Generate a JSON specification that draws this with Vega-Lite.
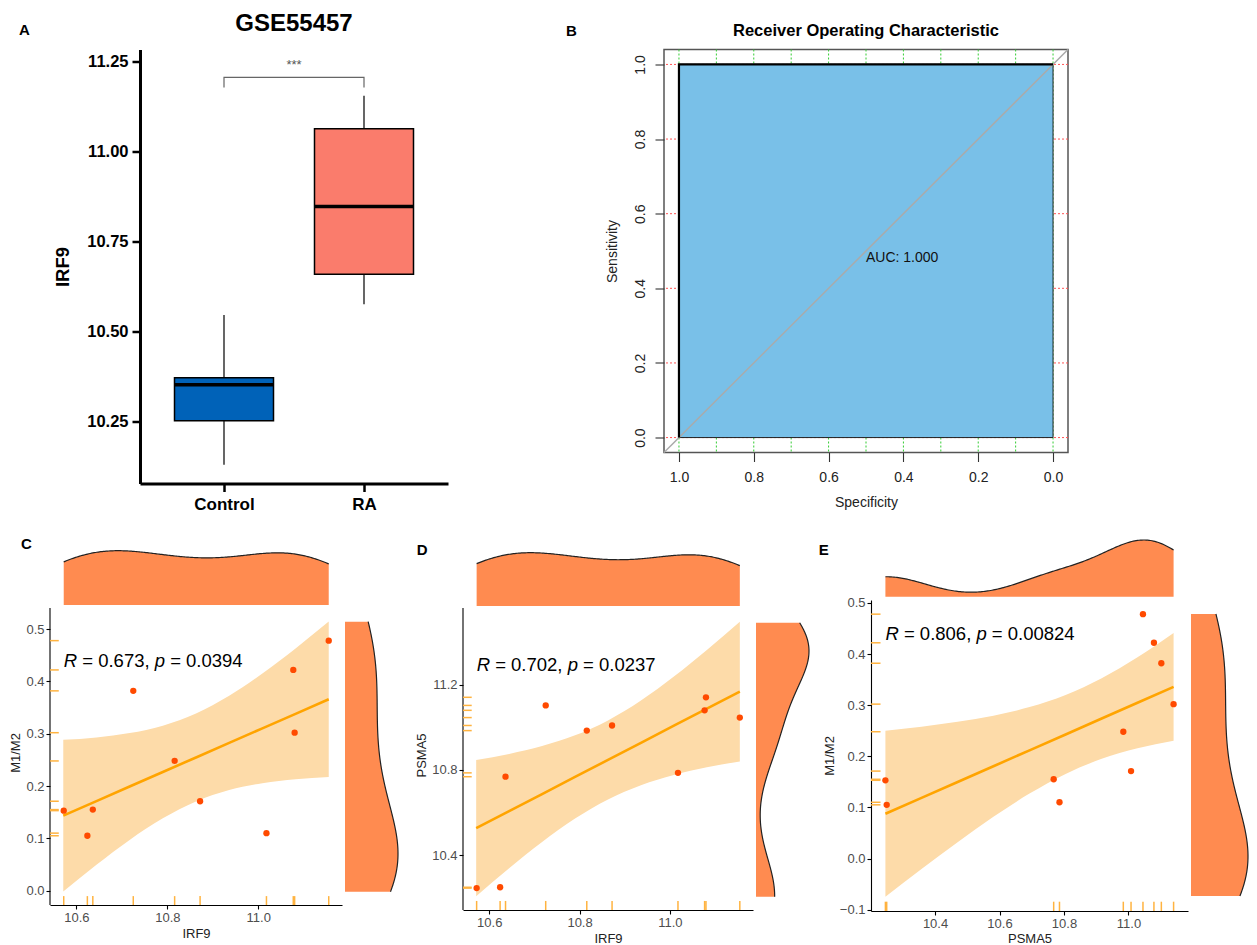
{
  "$schema": "https://vega.github.io/schema/vega-lite/v6.json",
  "padding": {"left": 9, "top": 11.5, "right": 0, "bottom": 0},
  "config": {
    "font": "Liberation Sans",
    "view": {"stroke": null},
    "axis": {"grid": false, "domainColor": "black", "domainWidth": 1.1, "tickColor": "black", "tickWidth": 1.1, "tickSize": 4, "labelFontSize": 13, "labelColor": "#4D4D4D", "labelPadding": 2, "titleFontSize": 13, "titleFontWeight": "normal", "titleColor": "#222222", "titlePadding": 3},
    "title": {"color": "black"}
  },
  "datasets": {
    "samples": [
      {"IRF9": 10.572, "PSMA5": 10.246, "M1M2": 0.153},
      {"IRF9": 10.624, "PSMA5": 10.250, "M1M2": 0.105},
      {"IRF9": 10.636, "PSMA5": 10.768, "M1M2": 0.155},
      {"IRF9": 10.725, "PSMA5": 11.102, "M1M2": 0.382},
      {"IRF9": 10.816, "PSMA5": 10.984, "M1M2": 0.248},
      {"IRF9": 10.872, "PSMA5": 11.008, "M1M2": 0.171},
      {"IRF9": 11.018, "PSMA5": 10.786, "M1M2": 0.110},
      {"IRF9": 11.077, "PSMA5": 11.079, "M1M2": 0.422},
      {"IRF9": 11.080, "PSMA5": 11.140, "M1M2": 0.302},
      {"IRF9": 11.155, "PSMA5": 11.045, "M1M2": 0.478}
    ],
    "bandC": [
      {"x": 10.571, "fit": 0.1434, "lo": -0.0016, "hi": 0.2884},
      {"x": 10.644, "fit": 0.1713, "lo": 0.0496, "hi": 0.2930},
      {"x": 10.717, "fit": 0.1991, "lo": 0.0970, "hi": 0.3012},
      {"x": 10.790, "fit": 0.2269, "lo": 0.1383, "hi": 0.3155},
      {"x": 10.863, "fit": 0.2547, "lo": 0.1706, "hi": 0.3388},
      {"x": 10.936, "fit": 0.2825, "lo": 0.1924, "hi": 0.3726},
      {"x": 11.009, "fit": 0.3103, "lo": 0.2055, "hi": 0.4151},
      {"x": 11.082, "fit": 0.3381, "lo": 0.2130, "hi": 0.4632},
      {"x": 11.155, "fit": 0.3659, "lo": 0.2172, "hi": 0.5146}
    ],
    "bandD": [
      {"x": 10.571, "fit": 10.5268, "lo": 10.2078, "hi": 10.8458},
      {"x": 10.644, "fit": 10.6068, "lo": 10.3390, "hi": 10.8746},
      {"x": 10.717, "fit": 10.6868, "lo": 10.4621, "hi": 10.9115},
      {"x": 10.790, "fit": 10.7668, "lo": 10.5718, "hi": 10.9618},
      {"x": 10.863, "fit": 10.8468, "lo": 10.6617, "hi": 11.0319},
      {"x": 10.936, "fit": 10.9268, "lo": 10.7285, "hi": 11.1251},
      {"x": 11.009, "fit": 11.0069, "lo": 10.7764, "hi": 11.2374},
      {"x": 11.082, "fit": 11.0869, "lo": 10.8118, "hi": 11.3620},
      {"x": 11.155, "fit": 11.1669, "lo": 10.8397, "hi": 11.4941}
    ],
    "bandE": [
      {"x": 10.246, "fit": 0.0875, "lo": -0.0750, "hi": 0.2500},
      {"x": 10.358, "fit": 0.1186, "lo": -0.0207, "hi": 0.2579},
      {"x": 10.470, "fit": 0.1497, "lo": 0.0320, "hi": 0.2674},
      {"x": 10.581, "fit": 0.1805, "lo": 0.0815, "hi": 0.2795},
      {"x": 10.693, "fit": 0.2116, "lo": 0.1270, "hi": 0.2962},
      {"x": 10.805, "fit": 0.2427, "lo": 0.1655, "hi": 0.3199},
      {"x": 10.917, "fit": 0.2738, "lo": 0.1949, "hi": 0.3527},
      {"x": 11.028, "fit": 0.3046, "lo": 0.2156, "hi": 0.3936},
      {"x": 11.140, "fit": 0.3357, "lo": 0.2304, "hi": 0.4410}
    ],
    "stats": [
      {"panel": "C", "r": "= 0.673,", "p": "= 0.0394"},
      {"panel": "D", "r": "= 0.702,", "p": "= 0.0237"},
      {"panel": "E", "r": "= 0.806,", "p": "= 0.00824"}
    ],
    "box": [
      {"group": "Control", "min": 10.130, "q1": 10.252, "med": 10.352, "q3": 10.372, "max": 10.546},
      {"group": "RA", "min": 10.576, "q1": 10.659, "med": 10.847, "q3": 11.063, "max": 11.155}
    ],
    "bracket": [
      {"group": "Control", "y": 11.178, "o": 1},
      {"group": "Control", "y": 11.206, "o": 2},
      {"group": "RA", "y": 11.206, "o": 3},
      {"group": "RA", "y": 11.178, "o": 4}
    ],
    "sig": [{"group": "Control", "y": 11.206, "label": "***"}],
    "gridV": [{"spec": 0}, {"spec": 0.1}, {"spec": 0.2}, {"spec": 0.3}, {"spec": 0.4}, {"spec": 0.5}, {"spec": 0.6}, {"spec": 0.7}, {"spec": 0.8}, {"spec": 0.9}, {"spec": 1}],
    "gridH": [{"sens": 0}, {"sens": 0.2}, {"sens": 0.4}, {"sens": 0.6}, {"sens": 0.8}, {"sens": 1}],
    "aucPoly": [{"spec": 1, "spec2": 0, "sens": 0, "sens2": 1}],
    "diag": [{"spec": 1.04, "sens": -0.04}, {"spec": -0.04, "sens": 1.04}],
    "roc": [{"spec": 1, "sens": 0, "i": 1}, {"spec": 1, "sens": 1, "i": 2}, {"spec": 0, "sens": 1, "i": 3}],
    "auc": [{"spec": 0.5, "sens": 0.5, "label": "AUC: 1.000"}]
  },
  "vconcat": [
    {
      "spacing": 118,
      "hconcat": [
        {
          "spacing": 2,
          "hconcat": [
            {
              "width": 1, "height": 1,
              "title": {"text": "A", "anchor": "start", "frame": "bounds", "fontSize": 15, "fontWeight": "bold", "offset": 12, "dx": -31},
              "data": {"values": []},
              "mark": {"type": "point", "opacity": 0}
            },
            {
              "width": 308, "height": 434,
              "title": {"text": "GSE55457", "fontSize": 24, "fontWeight": "bold", "anchor": "middle", "offset": 13.5},
              "data": {"name": "box"},
              "encoding": {
                "x": {"field": "group", "type": "nominal", "scale": {"type": "point", "padding": 0.6, "domain": ["Control", "RA"]},
                      "axis": {"title": null, "labelAngle": 0, "labelFontSize": 17, "labelFontWeight": "bold", "labelColor": "black", "labelPadding": 5, "domainWidth": 3, "tickWidth": 2.5, "tickSize": 8}}
              },
              "layer": [
                {
                  "mark": {"type": "rule", "color": "black", "strokeWidth": 1.2},
                  "encoding": {
                    "y": {"field": "min", "type": "quantitative", "title": "IRF9",
                          "scale": {"domain": [10.078, 11.2834], "nice": false, "zero": false},
                          "axis": {"values": [10.25, 10.5, 10.75, 11, 11.25], "format": ".2f", "labelFontSize": 16.5, "labelFontWeight": "bold", "labelColor": "black", "labelPadding": 4, "domainWidth": 3, "tickWidth": 2.5, "tickSize": 8, "titleFontSize": 18.5, "titleFontWeight": "bold", "titleColor": "black", "titlePadding": 14}},
                    "y2": {"field": "max"}
                  }
                },
                {
                  "mark": {"type": "bar", "size": 99, "stroke": "black", "strokeWidth": 1.5},
                  "encoding": {
                    "y": {"field": "q1", "type": "quantitative", "title": "IRF9"},
                    "y2": {"field": "q3"},
                    "color": {"field": "group", "type": "nominal", "scale": {"domain": ["Control", "RA"], "range": ["#0062B8", "#FA7C6C"]}, "legend": null}
                  }
                },
                {
                  "mark": {"type": "tick", "size": 99, "thickness": 3.5, "color": "black", "opacity": 1},
                  "encoding": {"y": {"field": "med", "type": "quantitative", "title": "IRF9"}}
                },
                {
                  "data": {"name": "bracket"},
                  "mark": {"type": "line", "color": "#666666", "strokeWidth": 1.2},
                  "encoding": {
                    "y": {"field": "y", "type": "quantitative", "title": "IRF9"},
                    "order": {"field": "o"}
                  }
                },
                {
                  "data": {"name": "sig"},
                  "mark": {"type": "text", "dx": 70, "dy": -5, "baseline": "bottom", "fontSize": 13, "color": "#555555"},
                  "encoding": {
                    "y": {"field": "y", "type": "quantitative", "title": "IRF9"},
                    "text": {"field": "label"}
                  }
                }
              ]
            }
          ]
        },
        {
          "spacing": 27,
          "hconcat": [
            {
              "width": 1, "height": 1,
              "title": {"text": "B", "anchor": "start", "frame": "bounds", "fontSize": 15, "fontWeight": "bold", "offset": 10.8},
              "data": {"values": []},
              "mark": {"type": "point", "opacity": 0}
            },
            {
              "width": 404, "height": 403,
              "view": {"stroke": "#555555", "strokeWidth": 1.5},
              "title": {"text": "Receiver Operating Characteristic", "fontSize": 16.5, "fontWeight": "bold", "anchor": "middle", "offset": 7.5},
              "layer": [
                {
                  "data": {"name": "gridV"},
                  "mark": {"type": "rule", "color": "#33CC33", "strokeDash": [2, 2], "strokeWidth": 1},
                  "encoding": {
                    "x": {"field": "spec", "type": "quantitative", "title": "Specificity",
                          "scale": {"domain": [-0.04, 1.04], "reverse": true, "nice": false, "zero": false},
                          "axis": {"values": [0, 0.2, 0.4, 0.6, 0.8, 1], "format": ".1f", "domain": false, "tickSize": 9, "tickColor": "#333333", "labelFontSize": 14, "labelColor": "#222222", "labelPadding": 8.5, "titleFontSize": 14, "titleColor": "#222222", "titlePadding": 11}}
                  }
                },
                {
                  "data": {"name": "gridH"},
                  "mark": {"type": "rule", "color": "#FF5555", "strokeDash": [2, 2], "strokeWidth": 1},
                  "encoding": {
                    "y": {"field": "sens", "type": "quantitative", "title": "Sensitivity",
                          "scale": {"domain": [-0.04, 1.04], "nice": false, "zero": false},
                          "axis": {"values": [0, 0.2, 0.4, 0.6, 0.8, 1], "format": ".1f", "domain": false, "tickSize": 9, "tickColor": "#333333", "labelFontSize": 14, "labelColor": "#222222", "labelAngle": -90, "labelPadding": 8, "titleFontSize": 14, "titleColor": "#222222", "titlePadding": 14}}
                  }
                },
                {
                  "data": {"name": "aucPoly"},
                  "mark": {"type": "rect", "fill": "#79C0E8", "stroke": "#222222", "strokeWidth": 1},
                  "encoding": {
                    "x": {"field": "spec", "type": "quantitative", "title": "Specificity"},
                    "x2": {"field": "spec2"},
                    "y": {"field": "sens", "type": "quantitative", "title": "Sensitivity"},
                    "y2": {"field": "sens2"}
                  }
                },
                {
                  "data": {"name": "diag"},
                  "mark": {"type": "line", "color": "#AAAAAA", "strokeWidth": 1.5},
                  "encoding": {
                    "x": {"field": "spec", "type": "quantitative", "title": "Specificity"},
                    "y": {"field": "sens", "type": "quantitative", "title": "Sensitivity"}
                  }
                },
                {
                  "data": {"name": "roc"},
                  "mark": {"type": "line", "color": "black", "strokeWidth": 2.2},
                  "encoding": {
                    "x": {"field": "spec", "type": "quantitative", "title": "Specificity"},
                    "y": {"field": "sens", "type": "quantitative", "title": "Sensitivity"},
                    "order": {"field": "i"}
                  }
                },
                {
                  "data": {"name": "auc"},
                  "mark": {"type": "text", "align": "left", "baseline": "top", "fontSize": 14, "color": "#111111"},
                  "encoding": {
                    "x": {"field": "spec", "type": "quantitative", "title": "Specificity"},
                    "y": {"field": "sens", "type": "quantitative", "title": "Sensitivity"},
                    "text": {"field": "label"}
                  }
                }
              ]
            }
          ]
        }
      ]
    },
    {
      "spacing": 6,
      "hconcat": [
        {
          "spacing": 14,
          "hconcat": [
            {
              "width": 292, "height": 305,
              "title": {"text": "C", "anchor": "start", "frame": "bounds", "fontSize": 15, "fontWeight": "bold", "offset": 0, "dx": 11, "dy": 4},
              "data": {"name": "samples"},
              "resolve": {"scale": {"x": "independent", "y": "independent"}},
              "layer": [
                {
                  "layer": [
                    {
                      "data": {"name": "bandC"},
                      "mark": {"type": "area", "color": "#FDDBA9", "opacity": 1, "interpolate": "monotone"},
                      "encoding": {
                        "x": {"field": "x", "type": "quantitative", "title": "IRF9", "scale": {"domain": [10.5418, 11.1842], "nice": false, "zero": false}, "axis": {"values": [10.6, 10.8, 11.0], "format": ".1f"}},
                        "y": {"field": "lo", "type": "quantitative", "title": "M1/M2", "scale": {"domain": [-0.0274, 0.5557], "nice": false, "zero": false}, "axis": {"values": [0, 0.1, 0.2, 0.3, 0.4, 0.5], "format": ".1f", "domain": false}},
                        "y2": {"field": "hi"}
                      }
                    },
                    {
                      "data": {"name": "bandC"},
                      "mark": {"type": "line", "color": "#FFA400", "strokeWidth": 2.6},
                      "encoding": {
                        "x": {"field": "x", "type": "quantitative", "title": "IRF9"},
                        "y": {"field": "fit", "type": "quantitative", "title": "M1/M2"}
                      }
                    },
                    {
                      "data": {"values": [{"axis": "y"}]},
                      "mark": {"type": "rule", "color": "black", "strokeWidth": 1.1},
                      "encoding": {
                        "x": {"datum": 10.5418},
                        "y": {"datum": -0.0274},
                        "y2": {"datum": 0.5404}
                      }
                    },
                    {
                      "mark": {"type": "rule", "color": "#FFB340", "strokeWidth": 1.5},
                      "encoding": {
                        "x": {"field": "IRF9", "type": "quantitative", "title": "IRF9"},
                        "y": {"datum": -0.0274},
                        "y2": {"datum": -0.0104}
                      }
                    },
                    {
                      "mark": {"type": "rule", "color": "#FFB340", "strokeWidth": 1.5},
                      "encoding": {
                        "y": {"field": "M1M2", "type": "quantitative", "title": "M1/M2"},
                        "x": {"datum": 10.5418},
                        "x2": {"datum": 10.5611}
                      }
                    },
                    {
                      "mark": {"type": "circle", "color": "#FF4A00", "size": 40, "opacity": 1},
                      "encoding": {
                        "x": {"field": "IRF9", "type": "quantitative", "title": "IRF9"},
                        "y": {"field": "M1M2", "type": "quantitative", "title": "M1/M2"}
                      }
                    },
                    {
                      "data": {"name": "stats"},
                      "transform": [{"filter": "datum.panel === 'C'"}],
                      "layer": [
                        {"mark": {"type": "text", "align": "left", "fontSize": 18.5, "fontStyle": "italic", "color": "black", "dx": 0}, "encoding": {"text": {"value": "R"}}},
                        {"mark": {"type": "text", "align": "left", "fontSize": 18.5, "color": "black", "dx": 18.5}, "encoding": {"text": {"field": "r"}}},
                        {"mark": {"type": "text", "align": "left", "fontSize": 18.5, "fontStyle": "italic", "color": "black", "dx": 91}, "encoding": {"text": {"value": "p"}}},
                        {"mark": {"type": "text", "align": "left", "fontSize": 18.5, "color": "black", "dx": 106.4}, "encoding": {"text": {"field": "p"}}}
                      ],
                      "encoding": {"x": {"datum": 10.572}, "y": {"datum": 0.439}}
                    }
                  ]
                },
                {
                  "transform": [{"density": "IRF9", "bandwidth": 0.1222, "extent": [10.572, 11.155], "as": ["v", "d"]}],
                  "mark": {"type": "area", "color": "#FF8B50", "opacity": 1, "line": {"color": "#222222", "strokeWidth": 1.2}},
                  "encoding": {
                    "x": {"field": "v", "type": "quantitative", "scale": {"domain": [10.5418, 11.1842], "nice": false, "zero": false}, "axis": null},
                    "y": {"field": "d", "type": "quantitative", "scale": {"range": [5, -49.3], "zero": true, "nice": false}, "axis": null}
                  }
                },
                {
                  "transform": [{"density": "M1M2", "bandwidth": 0.0773, "extent": [0.105, 0.478], "as": ["v", "d"]}],
                  "layer": [
                    {"mark": {"type": "area", "orient": "horizontal", "color": "#FF8B50", "opacity": 1},
                     "encoding": {
                       "y": {"field": "v", "type": "quantitative", "scale": {"domain": [0.105, 0.478], "range": [291.7, 21.7], "nice": false, "zero": false}, "axis": null},
                       "x": {"field": "d", "type": "quantitative", "scale": {"range": [295, 348], "zero": true, "nice": false}, "axis": null}
                     }},
                    {"mark": {"type": "line", "color": "#222222", "strokeWidth": 1.2},
                     "encoding": {
                       "y": {"field": "v", "type": "quantitative"},
                       "x": {"field": "d", "type": "quantitative"},
                       "order": {"field": "v", "type": "quantitative"}
                     }}
                  ]
                }
              ]
            },
            {
              "width": 290, "height": 310,
              "title": {"text": "D", "anchor": "start", "frame": "bounds", "fontSize": 15, "fontWeight": "bold", "offset": 0, "dx": 1, "dy": 7.3},
              "data": {"name": "samples"},
              "resolve": {"scale": {"x": "independent", "y": "independent"}},
              "layer": [
                {
                  "layer": [
                    {
                      "data": {"name": "bandD"},
                      "mark": {"type": "area", "color": "#FDDBA9", "opacity": 1, "interpolate": "monotone"},
                      "encoding": {
                        "x": {"field": "x", "type": "quantitative", "title": "IRF9", "scale": {"domain": [10.5418, 11.1842], "nice": false, "zero": false}, "axis": {"values": [10.6, 10.8, 11.0], "format": ".1f"}},
                        "y": {"field": "lo", "type": "quantitative", "title": "PSMA5", "scale": {"domain": [10.1435, 11.5959], "nice": false, "zero": false}, "axis": {"values": [10.4, 10.8, 11.2], "format": ".1f", "domain": false}},
                        "y2": {"field": "hi"}
                      }
                    },
                    {
                      "data": {"name": "bandD"},
                      "mark": {"type": "line", "color": "#FFA400", "strokeWidth": 2.6},
                      "encoding": {
                        "x": {"field": "x", "type": "quantitative", "title": "IRF9"},
                        "y": {"field": "fit", "type": "quantitative", "title": "PSMA5"}
                      }
                    },
                    {
                      "data": {"values": [{"axis": "y"}]},
                      "mark": {"type": "rule", "color": "black", "strokeWidth": 1.1},
                      "encoding": {
                        "x": {"datum": 10.5418},
                        "y": {"datum": 10.1435},
                        "y2": {"datum": 11.5584}
                      }
                    },
                    {
                      "mark": {"type": "rule", "color": "#FFB340", "strokeWidth": 1.5},
                      "encoding": {
                        "x": {"field": "IRF9", "type": "quantitative", "title": "IRF9"},
                        "y": {"datum": 10.1435},
                        "y2": {"datum": 10.1859}
                      }
                    },
                    {
                      "mark": {"type": "rule", "color": "#FFB340", "strokeWidth": 1.5},
                      "encoding": {
                        "y": {"field": "PSMA5", "type": "quantitative", "title": "PSMA5"},
                        "x": {"datum": 10.5418},
                        "x2": {"datum": 10.5611}
                      }
                    },
                    {
                      "mark": {"type": "circle", "color": "#FF4A00", "size": 40, "opacity": 1},
                      "encoding": {
                        "x": {"field": "IRF9", "type": "quantitative", "title": "IRF9"},
                        "y": {"field": "PSMA5", "type": "quantitative", "title": "PSMA5"}
                      }
                    },
                    {
                      "data": {"name": "stats"},
                      "transform": [{"filter": "datum.panel === 'D'"}],
                      "layer": [
                        {"mark": {"type": "text", "align": "left", "fontSize": 18.5, "fontStyle": "italic", "color": "black", "dx": 0}, "encoding": {"text": {"value": "R"}}},
                        {"mark": {"type": "text", "align": "left", "fontSize": 18.5, "color": "black", "dx": 18.5}, "encoding": {"text": {"field": "r"}}},
                        {"mark": {"type": "text", "align": "left", "fontSize": 18.5, "fontStyle": "italic", "color": "black", "dx": 91}, "encoding": {"text": {"value": "p"}}},
                        {"mark": {"type": "text", "align": "left", "fontSize": 18.5, "color": "black", "dx": 106.4}, "encoding": {"text": {"field": "p"}}}
                      ],
                      "encoding": {"x": {"datum": 10.572}, "y": {"datum": 11.292}}
                    }
                  ]
                },
                {
                  "transform": [{"density": "IRF9", "bandwidth": 0.1222, "extent": [10.572, 11.155], "as": ["v", "d"]}],
                  "mark": {"type": "area", "color": "#FF8B50", "opacity": 1, "line": {"color": "#222222", "strokeWidth": 1.2}},
                  "encoding": {
                    "x": {"field": "v", "type": "quantitative", "scale": {"domain": [10.5418, 11.1842], "nice": false, "zero": false}, "axis": null},
                    "y": {"field": "d", "type": "quantitative", "scale": {"range": [6, -47.3], "zero": true, "nice": false}, "axis": null}
                  }
                },
                {
                  "transform": [{"density": "PSMA5", "bandwidth": 0.1263, "extent": [10.246, 11.14], "as": ["v", "d"]}],
                  "layer": [
                    {"mark": {"type": "area", "orient": "horizontal", "color": "#FF8B50", "opacity": 1},
                     "encoding": {
                       "y": {"field": "v", "type": "quantitative", "scale": {"domain": [10.246, 11.14], "range": [296.7, 22.7], "nice": false, "zero": false}, "axis": null},
                       "x": {"field": "d", "type": "quantitative", "scale": {"range": [293, 346], "zero": true, "nice": false}, "axis": null}
                     }},
                    {"mark": {"type": "line", "color": "#222222", "strokeWidth": 1.2},
                     "encoding": {
                       "y": {"field": "v", "type": "quantitative"},
                       "x": {"field": "d", "type": "quantitative"},
                       "order": {"field": "v", "type": "quantitative"}
                     }}
                  ]
                }
              ]
            }
          ]
        },
        {
          "width": 317, "height": 311,
          "title": {"text": "E", "anchor": "start", "frame": "bounds", "fontSize": 15, "fontWeight": "bold", "offset": 0, "dx": -4.5, "dy": 20},
          "data": {"name": "samples"},
          "resolve": {"scale": {"x": "independent", "y": "independent"}},
          "layer": [
            {
              "layer": [
                {
                  "data": {"name": "bandE"},
                  "mark": {"type": "area", "color": "#FDDBA9", "opacity": 1, "interpolate": "monotone"},
                  "encoding": {
                    "x": {"field": "x", "type": "quantitative", "title": "PSMA5", "scale": {"domain": [10.2013, 11.1847], "nice": false, "zero": false}, "axis": {"values": [10.4, 10.6, 10.8, 11.0], "format": ".1f", "titlePadding": 2}},
                    "y": {"field": "lo", "type": "quantitative", "title": "M1/M2", "scale": {"domain": [-0.1027, 0.5057], "nice": false, "zero": false}, "axis": {"values": [-0.1, 0, 0.1, 0.2, 0.3, 0.4, 0.5], "format": ".1f"}},
                    "y2": {"field": "hi"}
                  }
                },
                {
                  "data": {"name": "bandE"},
                  "mark": {"type": "line", "color": "#FFA400", "strokeWidth": 2.6},
                  "encoding": {
                    "x": {"field": "x", "type": "quantitative", "title": "PSMA5"},
                    "y": {"field": "fit", "type": "quantitative", "title": "M1/M2"}
                  }
                },
                {
                  "mark": {"type": "rule", "color": "#FFB340", "strokeWidth": 1.5},
                  "encoding": {
                    "x": {"field": "PSMA5", "type": "quantitative", "title": "PSMA5"},
                    "y": {"datum": -0.1027},
                    "y2": {"datum": -0.0845}
                  }
                },
                {
                  "mark": {"type": "rule", "color": "#FFB340", "strokeWidth": 1.5},
                  "encoding": {
                    "y": {"field": "M1M2", "type": "quantitative", "title": "M1/M2"},
                    "x": {"datum": 10.2013},
                    "x2": {"datum": 10.2308}
                  }
                },
                {
                  "mark": {"type": "circle", "color": "#FF4A00", "size": 40, "opacity": 1},
                  "encoding": {
                    "x": {"field": "PSMA5", "type": "quantitative", "title": "PSMA5"},
                    "y": {"field": "M1M2", "type": "quantitative", "title": "M1/M2"}
                  }
                },
                {
                  "data": {"name": "stats"},
                  "transform": [{"filter": "datum.panel === 'E'"}],
                  "layer": [
                    {"mark": {"type": "text", "align": "left", "fontSize": 18.5, "fontStyle": "italic", "color": "black", "dx": 0}, "encoding": {"text": {"value": "R"}}},
                    {"mark": {"type": "text", "align": "left", "fontSize": 18.5, "color": "black", "dx": 18.5}, "encoding": {"text": {"field": "r"}}},
                    {"mark": {"type": "text", "align": "left", "fontSize": 18.5, "fontStyle": "italic", "color": "black", "dx": 91}, "encoding": {"text": {"value": "p"}}},
                    {"mark": {"type": "text", "align": "left", "fontSize": 18.5, "color": "black", "dx": 106.4}, "encoding": {"text": {"field": "p"}}}
                  ],
                  "encoding": {"x": {"datum": 10.246}, "y": {"datum": 0.439}}
                }
              ]
            },
            {
              "transform": [{"density": "PSMA5", "bandwidth": 0.1263, "extent": [10.246, 11.14], "as": ["v", "d"]}],
              "mark": {"type": "area", "color": "#FF8B50", "opacity": 1, "line": {"color": "#222222", "strokeWidth": 1.2}},
              "encoding": {
                "x": {"field": "v", "type": "quantitative", "scale": {"domain": [10.2013, 11.1847], "nice": false, "zero": false}, "axis": null},
                "y": {"field": "d", "type": "quantitative", "scale": {"range": [-3.3, -60], "zero": true, "nice": false}, "axis": null}
              }
            },
            {
              "transform": [{"density": "M1M2", "bandwidth": 0.0773, "extent": [0.105, 0.478], "as": ["v", "d"]}],
              "layer": [
                {"mark": {"type": "area", "orient": "horizontal", "color": "#FF8B50", "opacity": 1},
                 "encoding": {
                   "y": {"field": "v", "type": "quantitative", "scale": {"domain": [0.105, 0.478], "range": [296, 14], "nice": false, "zero": false}, "axis": null},
                   "x": {"field": "d", "type": "quantitative", "scale": {"range": [320, 377], "zero": true, "nice": false}, "axis": null}
                 }},
                {"mark": {"type": "line", "color": "#222222", "strokeWidth": 1.2},
                 "encoding": {
                   "y": {"field": "v", "type": "quantitative"},
                   "x": {"field": "d", "type": "quantitative"},
                   "order": {"field": "v", "type": "quantitative"}
                 }}
              ]
            }
          ]
        }
      ]
    }
  ],
  "spacing": 24.5
}
